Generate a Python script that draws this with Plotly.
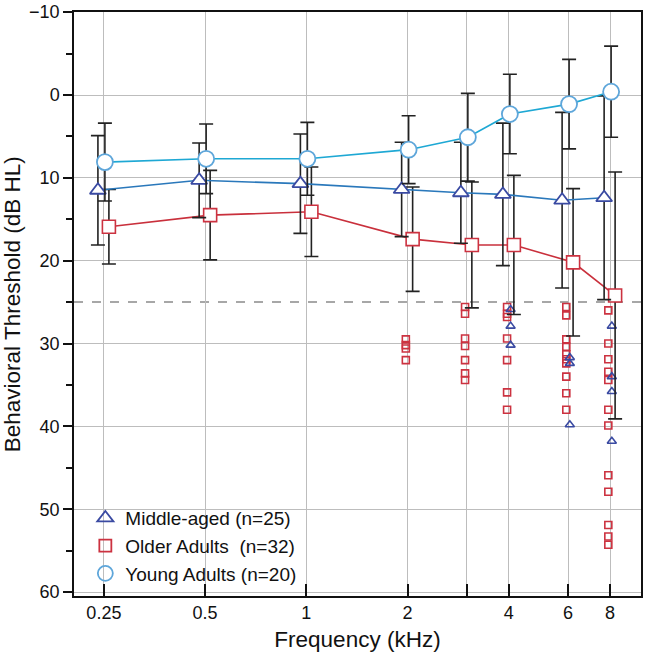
import plotly.graph_objects as go

freqs = [0.25, 0.5, 1, 2, 3, 4, 6, 8]
tick_vals = [0.25, 0.5, 1, 2, 3, 4, 6, 8]
tick_text = ["0.25", "0.5", "1", "2", "", "4", "6", "8"]

young_mean = [8.1, 7.7, 7.7, 6.6, 5.1, 2.3, 1.1, -0.4]
young_sd = [4.7, 4.2, 4.4, 4.1, 5.3, 4.8, 5.4, 5.5]
middle_mean = [11.5, 10.3, 10.7, 11.4, 11.8, 12.0, 12.7, 12.4]
middle_sd = [6.6, 4.5, 6.0, 5.7, 6.1, 8.6, 10.6, 12.3]
older_mean = [15.9, 14.5, 14.1, 17.4, 18.1, 18.1, 20.2, 24.2]
older_sd = [4.5, 5.4, 5.4, 6.3, 7.6, 8.4, 8.9, 14.9]

# individual listeners beyond the 25 dB HL criterion
older_ind_f = [2]*4 + [3]*7 + [4]*7 + [6]*10 + [8]*12
older_ind_db = [29.5, 30.2, 30.6, 32.0,
                25.6, 26.4, 29.4, 30.3, 32.0, 33.6, 34.4,
                25.6, 26.4, 26.8, 29.4, 32.0, 35.9, 38.0,
                25.6, 26.6, 29.5, 30.4, 31.3, 31.9, 32.4, 34.0, 36.0, 38.0,
                26.0, 30.0, 31.9, 33.4, 34.4, 38.0, 39.9, 45.9, 47.9, 51.9, 53.3, 54.3]
middle_ind_f = [4]*3 + [6]*3 + [8]*4
middle_ind_db = [25.9, 27.9, 30.2,
                 31.7, 32.4, 39.8,
                 27.9, 34.0, 35.8, 41.8]

criterion = 25

series_names = ["Middle-aged (n=25)", "Older Adults  (n=32)", "Young Adults (n=20)"]
x_title = "Frequency (kHz)"
y_title = "Behavioral Threshold (dB HL)"

c_young_line = "#1ea8d4"
c_young_mk = "#5ea6da"
c_mid_line = "#2a78bb"
c_mid_mk = "#3a4aa2"
c_old_line = "#c9303c"
c_old_mk = "#cc3240"
c_err = "#222222"

def shift(vals, k):
    return [v * k for v in vals]

fig = go.Figure()

# criterion line
fig.add_shape(type="line", xref="paper", yref="y", x0=0, x1=1, y0=criterion, y1=criterion,
              line=dict(color="#8a8a8a", width=1.5, dash="dash"), layer="below")

# individual points
fig.add_trace(go.Scatter(x=shift(older_ind_f, 0.988), y=older_ind_db, mode="markers",
                         marker=dict(symbol="square-open", size=7, color=c_old_mk,
                                     line=dict(width=1.6, color=c_old_mk)),
                         showlegend=False, hoverinfo="skip"))
fig.add_trace(go.Scatter(x=shift(middle_ind_f, 1.012), y=middle_ind_db, mode="markers",
                         marker=dict(symbol="triangle-up-open", size=8, color=c_mid_mk,
                                     line=dict(width=1.6, color=c_mid_mk)),
                         showlegend=False, hoverinfo="skip"))

err = dict(type="data", thickness=1.6, width=7, color=c_err)

fig.add_trace(go.Scatter(x=shift(freqs, 1.035), y=older_mean, mode="lines+markers",
                         line=dict(color=c_old_line, width=1.6),
                         marker=dict(symbol="square", size=13, color="white",
                                     line=dict(width=1.6, color=c_old_mk)),
                         error_y=dict(array=older_sd, **err), showlegend=False))
fig.add_trace(go.Scatter(x=shift(freqs, 0.96), y=middle_mean, mode="lines+markers",
                         line=dict(color=c_mid_line, width=1.6),
                         marker=dict(symbol="triangle-up", size=14, color="white",
                                     line=dict(width=1.8, color=c_mid_mk)),
                         error_y=dict(array=middle_sd, **err), showlegend=False))
fig.add_trace(go.Scatter(x=shift(freqs, 1.007), y=young_mean, mode="lines+markers",
                         line=dict(color=c_young_line, width=1.6),
                         marker=dict(symbol="circle", size=16, color="white",
                                     line=dict(width=1.8, color=c_young_mk)),
                         error_y=dict(array=young_sd, **err), showlegend=False))

# legend-only entries (markers only)
for name, sym, col, sz in [(series_names[0], "triangle-up-open", c_mid_mk, 14),
                           (series_names[1], "square-open", c_old_mk, 12),
                           (series_names[2], "circle-open", c_young_mk, 15)]:
    fig.add_trace(go.Scatter(x=[None], y=[None], mode="markers", name=name,
                             marker=dict(symbol=sym, size=sz, color=col,
                                         line=dict(width=1.8, color=col))))

fig.add_annotation(text=y_title, xref="paper", yref="paper", x=-0.109, y=0.5,
                   xanchor="center", yanchor="middle", textangle=-90, showarrow=False,
                   font=dict(size=22.5, color="#111"))

fig.update_layout(
    width=645, height=652,
    margin=dict(l=74, r=2, t=5, b=56),
    paper_bgcolor="white", plot_bgcolor="white",
    font=dict(family="Liberation Sans, Arial, sans-serif", size=18, color="#111"),
    showlegend=True,
    legend=dict(x=0.020, y=0.005, xanchor="left", yanchor="bottom",
                bgcolor="rgba(0,0,0,0)", font=dict(size=19), tracegroupgap=0,
                itemsizing="trace"),
    xaxis=dict(type="log", range=[-0.6909, 0.995], tickvals=tick_vals, ticktext=tick_text,
               ticks="inside", ticklen=12, tickwidth=1.5, tickcolor="#111",
               showline=True, linecolor="#111", linewidth=1.5, mirror=True,
               showgrid=True, gridcolor="#bdbdbd", gridwidth=1.2, zeroline=False,
               tickfont=dict(size=18), ticklabeloverflow="allow",
               title=dict(text=x_title, font=dict(size=22.5), standoff=10)),
    yaxis=dict(range=[60.48, -10.02], tick0=0, dtick=10,
               ticks="outside", ticklen=9, tickwidth=1.5, tickcolor="#111",
               minor=dict(dtick=5, tick0=5, ticks="outside", ticklen=6, tickwidth=1.5,
                          tickcolor="#111", showgrid=False),
               showline=True, linecolor="#111", linewidth=1.5, mirror=True,
               showgrid=True, gridcolor="#bdbdbd", gridwidth=1.2, zeroline=False,
               tickfont=dict(size=18), ticklabeloverflow="allow"),
)

fig.write_html("out.html", config={"displayModeBar": False},
               post_script="document.body.style.margin='0px';")
